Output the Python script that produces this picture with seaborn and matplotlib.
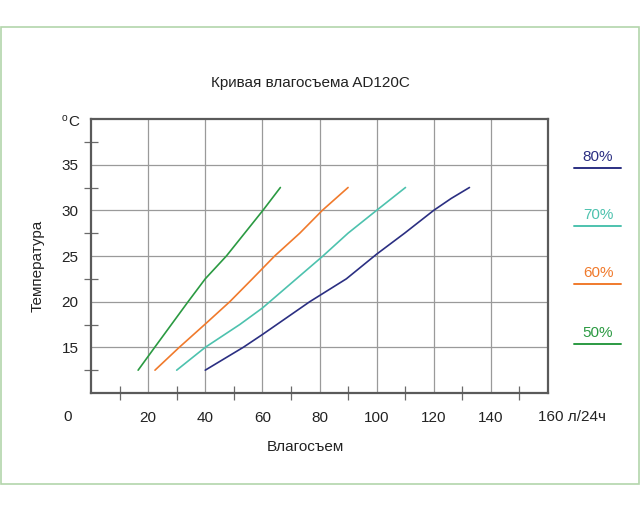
import matplotlib
matplotlib.use("Agg")
import matplotlib.pyplot as plt
from matplotlib.patches import Rectangle
from matplotlib.lines import Line2D
import pandas as pd
import seaborn as sns

# --- данные ---
x_50 = [16.5, 22.3, 34.0, 40.0, 47.4, 53.8, 60.2, 66.3]
y_50 = [12.5, 15.0, 20.0, 22.5, 25.0, 27.5, 30.0, 32.5]

x_60 = [22.4, 30.9, 40.0, 48.6, 56.5, 64.3, 73.1, 81.0, 90.0]
y_60 = [12.5, 15.0, 17.55, 20.0, 22.5, 25.0, 27.5, 30.0, 32.5]

x_70 = [30.0, 40.0, 52.1, 60.0, 71.9, 81.2, 90.0, 100.0, 110.1]
y_70 = [12.5, 15.0, 17.5, 19.3, 22.5, 25.0, 27.5, 30.0, 32.5]

x_80 = [40.0, 53.3, 60.0, 76.6, 89.4, 100.0, 109.8, 120.0, 126.1, 132.5]
y_80 = [12.5, 15.0, 16.4, 20.0, 22.5, 25.2, 27.5, 30.0, 31.3, 32.5]

series_labels = ["80%", "70%", "60%", "50%"]
series_colors = {"80%": "#2b2f82", "70%": "#4dc2ae", "60%": "#f07a2c", "50%": "#2b9a42"}

x_ticks = [20, 40, 60, 80, 100, 120, 140]
y_ticks = [15, 20, 25, 30, 35]

TITLE = "Кривая влагосъема AD120C"
XLABEL = "Влагосъем"
YLABEL = "Температура"

# таблица для seaborn
rows = []
for lab, xs, ys in [("50%", x_50, y_50), ("60%", x_60, y_60),
                    ("70%", x_70, y_70), ("80%", x_80, y_80)]:
    for a, b in zip(xs, ys):
        rows.append({"x": a, "y": b, "RH": lab})
df = pd.DataFrame(rows)

sns.set_style("white")
plt.rcParams["font.family"] = ["Liberation Sans", "DejaVu Sans"]

W, H = 640, 512
fig = plt.figure(figsize=(6.4, 5.12), dpi=100)
ax = fig.add_axes([91 / W, 1 - 393 / H, (548 - 91) / W, (393 - 119) / H])

sns.lineplot(data=df, x="x", y="y", hue="RH", palette=series_colors,
             units="RH", estimator=None, sort=False, lw=1.2,
             legend=False, ax=ax)

ax.set_xlim(0, 160)
ax.set_ylim(10, 40)
ax.set_xticks(x_ticks)
ax.set_xticklabels([str(v) for v in x_ticks])
ax.set_yticks(y_ticks)
ax.set_yticklabels([str(v) for v in y_ticks])
ax.set_xticks([10, 30, 50, 70, 90, 110, 130, 150], minor=True)
ax.set_yticks([12.5, 17.5, 22.5, 27.5, 32.5, 37.5], minor=True)
ax.tick_params(which="both", bottom=True, left=True, top=False, right=False)
ax.tick_params(which="major", length=0, labelsize=11, labelcolor="#222222")
ax.tick_params(axis="x", which="major", pad=13)
ax.tick_params(axis="y", which="major", pad=9)
ax.tick_params(which="minor", direction="inout", length=9.5, width=0.9,
               color="#6a6a6a")
ax.grid(True, which="major", color="#9a9a9a", lw=0.9)
ax.set_xlabel("")
ax.set_ylabel("")
for sp in ax.spines.values():
    sp.set_color("#5a5a5a")
    sp.set_linewidth(1.6)

# подписи "0" и "160 л/24ч"
lab_y = 1 - 417 / H
fig.text(68 / W, lab_y, "0", ha="center", va="center", fontsize=11, color="#222222")
fig.text(538 / W, lab_y, "160 л/24ч", ha="left", va="center", fontsize=11, color="#222222")

# °C
fig.text(62 / W, 1 - 118 / H, "o", ha="left", va="center", fontsize=7.5, color="#222222")
fig.text(68 / W, 1 - 122 / H, "C", ha="left", va="center", fontsize=11, color="#222222")

fig.text(310 / W, 1 - 83 / H, TITLE, ha="center", va="center", fontsize=11, color="#222222")
fig.text(305 / W, 1 - 447 / H, XLABEL, ha="center", va="center", fontsize=11, color="#222222")
fig.text(38 / W, 1 - 266 / H, YLABEL, ha="center", va="center", rotation=90,
         fontsize=11, color="#222222")

# легенда справа
leg_text_y = [157, 215, 273, 333]
for lab, ty in zip(series_labels, leg_text_y):
    c = series_colors[lab]
    fig.text(598 / W, 1 - ty / H, lab, ha="center", va="center", fontsize=11, color=c)
    fig.add_artist(Line2D([574 / W, 621 / W], [1 - (ty + 11) / H] * 2,
                          color=c, lw=1.4, transform=fig.transFigure))

# рамка
fig.patches.append(Rectangle((1 / W, 1 - 484 / H), 638 / W, (484 - 27) / H,
                             fill=False, edgecolor="#b3d5ab", lw=1.2,
                             transform=fig.transFigure, figure=fig))

fig.savefig("out.png", dpi=100)
